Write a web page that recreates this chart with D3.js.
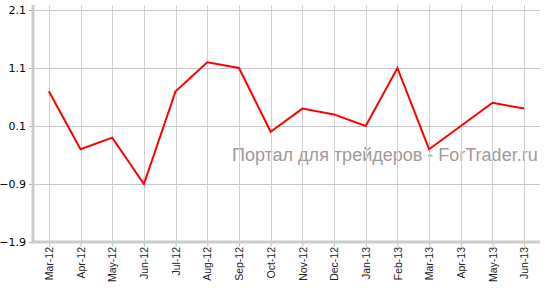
<!DOCTYPE html>
<meta charset="utf-8">
<style>
	body { margin: 0; background: #fff; }
	svg { display: block; }
</style>
<svg width="548" height="288"></svg>
<script src="https://cdnjs.cloudflare.com/ajax/libs/d3/7.8.5/d3.min.js"></script>
<script type="text/javascript">
	var months = ["Mar-12","Apr-12","May-12","Jun-12","Jul-12","Aug-12","Sep-12","Oct-12",
		"Nov-12","Dec-12","Jan-13","Feb-13","Mar-13","Apr-13","May-13","Jun-13"];
	var values = [0.7, -0.3, -0.1, -0.9, 0.7, 1.2, 1.1, 0.0, 0.4, 0.3, 0.1, 1.1, -0.3, 0.1, 0.5, 0.4];
	var yTicks = [2.1, 1.1, 0.1, -0.9, -1.9];
	var watermark = "Портал для трейдеров - ForTrader.ru";

	var svg = d3.select("svg"),
		plotLeft = 33, plotRight = 540, plotTop = 10, plotBottom = 242;

	var x = d3.scalePoint().domain(months).range([plotLeft, plotRight]).padding(0.5),
		y = d3.scaleLinear().domain([-1.9, 2.1]).range([plotBottom, plotTop]);

	// watermark sits behind the grid
	svg.append("text")
		.attr("x", 232).attr("y", 161)
		.style("font-family", "'Liberation Sans', Arial, sans-serif")
		.style("font-size", "18px")
		.attr("fill", "#a39898")
		.text(watermark);

	// grid
	svg.append("g").selectAll("line").data(months).enter().append("line")
		.attr("x1", function(d){return Math.round(x(d)) + 0.5}).attr("x2", function(d){return Math.round(x(d)) + 0.5})
		.attr("y1", 5).attr("y2", plotBottom)
		.attr("stroke", "#d0d0d0");

	svg.append("g").selectAll("line").data(yTicks).enter().append("line")
		.attr("x1", plotLeft).attr("x2", plotRight)
		.attr("y1", function(d){return Math.round(y(d)) + 0.5}).attr("y2", function(d){return Math.round(y(d)) + 0.5})
		.attr("stroke", "#c8c8c8");

	// y axis
	var yAxis = svg.append("g").attr("transform", "translate(" + plotLeft + ",0)")
		.call(d3.axisLeft(y).tickValues(yTicks).tickSize(4).tickPadding(3).tickFormat(function(d){return d3.format(".1f")(d)}));
	yAxis.select(".domain").remove();
	yAxis.selectAll(".tick line").attr("stroke", "#b0b0b0");
	yAxis.selectAll("text").style("font-family", "'DejaVu Sans', Verdana, sans-serif").style("font-size", "11px").attr("fill", "#000");

	// x axis
	var xAxis = svg.append("g").attr("transform", "translate(0," + plotBottom + ")")
		.call(d3.axisBottom(x).tickSize(5).tickPadding(0));
	xAxis.select(".domain").remove();
	xAxis.selectAll(".tick line").attr("stroke", "#c0c0c0");
	xAxis.selectAll("text")
		.style("font-family", "'Liberation Sans', Arial, sans-serif").style("font-size", "10.5px").attr("fill", "#222")
		.attr("transform", "rotate(-90)")
		.attr("text-anchor", "end")
		.attr("x", -5).attr("y", 0).attr("dy", "0.35em");

	// axis lines
	svg.append("line").attr("x1", plotLeft).attr("x2", plotLeft).attr("y1", 5).attr("y2", plotBottom + 1.5)
		.attr("stroke", "#cccccc").attr("stroke-width", 3);
	svg.append("line").attr("x1", plotLeft).attr("x2", plotRight).attr("y1", plotBottom).attr("y2", plotBottom)
		.attr("stroke", "#cccccc").attr("stroke-width", 3);

	// series
	var line = d3.line().x(function(d, i){return x(months[i])}).y(function(d){return y(d)});
	svg.append("path").datum(values)
		.attr("fill", "none").attr("stroke", "#ff0000").attr("stroke-width", 2).attr("stroke-linejoin", "miter")
		.attr("d", line);
</script>
